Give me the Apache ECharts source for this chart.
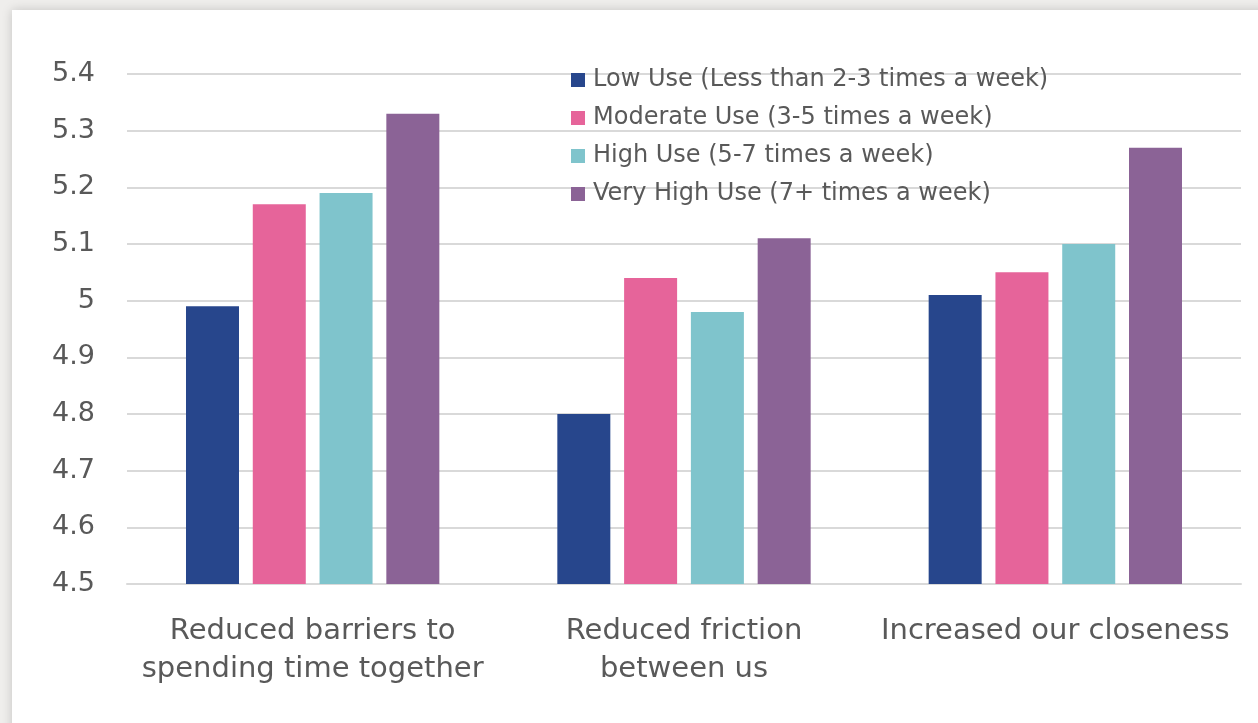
<!DOCTYPE html>
<html>
<head>
<meta charset="utf-8">
<script src="https://cdn.jsdelivr.net/npm/echarts@6/dist/echarts.min.js"></script>
<style>
html,body{margin:0;padding:0;width:1258px;height:723px;overflow:hidden;background:#efeeec;}
#card{position:absolute;left:12px;top:10px;width:1300px;height:760px;background:#fff;box-shadow:0 0 10px rgba(0,0,0,0.18);}
#chart{position:absolute;left:0;top:0;width:1258px;height:723px;}
</style>
</head>
<body>
<div id="card"></div>
<div id="chart"></div>
<script>
const categories = ["Reduced barriers to\nspending time together", "Reduced friction\nbetween us", "Increased our closeness"];
const seriesNames = ["Low Use (Less than 2-3 times a week)", "Moderate Use (3-5 times a week)", "High Use (5-7 times a week)", "Very High Use (7+ times a week)"];
const lowUse = [4.99, 4.80, 5.01];
const moderateUse = [5.17, 5.04, 5.05];
const highUse = [5.19, 4.98, 5.10];
const veryHighUse = [5.33, 5.11, 5.27];
const colors = ["#27468c", "#e6649a", "#7fc4cc", "#8b6396"];

const values = [lowUse, moderateUse, highUse, veryHighUse];
const FONT = "DejaVu Sans";
const chart = echarts.init(document.getElementById('chart'), null, {renderer: 'canvas'});
chart.setOption({
  backgroundColor: 'transparent',
  animation: false,
  textStyle: {fontFamily: FONT},
  legend: {
    orient: 'vertical',
    left: 566,
    top: 63,
    itemWidth: 14,
    itemHeight: 14,
    itemGap: 14,
    icon: 'rect',
    textStyle: {fontSize: 24, lineHeight: 24, color: '#595959', fontFamily: FONT, padding: [0,0,0,3]},
    data: seriesNames
  },
  grid: {left: 127, right: 17, top: 74, bottom: 139, containLabel: false},
  xAxis: {
    type: 'category',
    data: categories,
    axisLine: {show: true, lineStyle: {color: '#d9d9d9', width: 2}},
    axisTick: {show: false},
    axisLabel: {fontSize: 29, color: '#595959', fontFamily: FONT, lineHeight: 38, margin: 28, interval: 0}
  },
  yAxis: {
    type: 'value',
    min: 4.5,
    max: 5.4,
    interval: 0.1,
    axisLine: {show: false},
    axisTick: {show: false},
    splitLine: {lineStyle: {color: '#d9d9d9', width: 2}},
    axisLabel: {fontSize: 27, color: '#595959', fontFamily: FONT, margin: 32,
      formatter: v => (Math.round(v*10)/10).toString()}
  },
  series: seriesNames.map((n, i) => ({
    name: n,
    type: 'bar',
    data: values[i],
    barWidth: 53,
    barGap: '26%',
    itemStyle: {color: colors[i]}
  }))
});
</script>
</body>
</html>
